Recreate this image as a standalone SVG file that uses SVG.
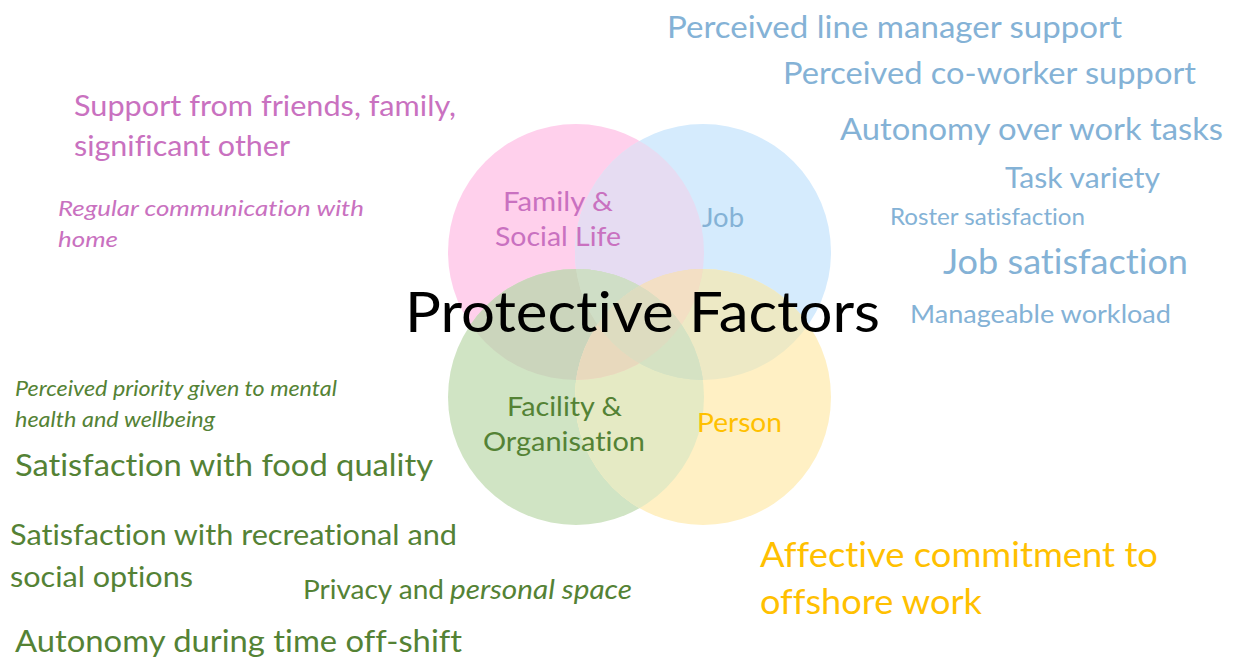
<svg xmlns="http://www.w3.org/2000/svg" width="1236" height="659" viewBox="0 0 1236 659">
<style>
text{font-family:Lato,"Open Sans","Liberation Sans",sans-serif;font-variant-ligatures:none;font-feature-settings:"liga" 0,"clig" 0;}
.b{fill:#84b2d6;}
.p{fill:#c971c0;}
.g{fill:#548235;}
.y{fill:#ffc000;}
.it{font-style:italic;}
.lbl{font-size:26.5px;}
</style>
<defs>
<circle id="cP" cx="576" cy="252" r="128"/>
<circle id="cB" cx="703" cy="252" r="128"/>
<circle id="cG" cx="576" cy="397" r="128"/>
<circle id="cY" cx="703" cy="397" r="128"/>
<clipPath id="kP"><use href="#cP"/></clipPath>
<clipPath id="kB"><use href="#cB"/></clipPath>
<clipPath id="kG"><use href="#cG"/></clipPath>
<clipPath id="kY"><use href="#cY"/></clipPath>
</defs>
<rect width="1236" height="659" fill="#ffffff"/>
<g id="circles">
<use id="circle-family" href="#cP" fill="#ffd0ec"/>
<use id="circle-job" href="#cB" fill="#d5ebfd"/>
<use id="circle-facility" href="#cG" fill="#d0e4c4"/>
<use id="circle-person" href="#cY" fill="#fff0c4"/>
<g clip-path="url(#kP)"><use href="#cB" fill="#e6dcf2"/></g>
<g clip-path="url(#kP)"><use href="#cG" fill="#cbd5bc"/></g>
<g clip-path="url(#kB)"><use href="#cY" fill="#ede9c5"/></g>
<g clip-path="url(#kG)"><use href="#cY" fill="#e5eac4"/></g>
<g clip-path="url(#kP)"><use href="#cY" fill="#f0dcc6"/></g>
<g clip-path="url(#kB)"><use href="#cG" fill="#d2e2c8"/></g>
<g clip-path="url(#kP)"><g clip-path="url(#kB)"><use href="#cG" fill="#cfdec6"/></g></g>
<g clip-path="url(#kP)"><g clip-path="url(#kB)"><use href="#cY" fill="#f3dfc4"/></g></g>
<g clip-path="url(#kP)"><g clip-path="url(#kG)"><use href="#cY" fill="#e8d9bd"/></g></g>
<g clip-path="url(#kB)"><g clip-path="url(#kG)"><use href="#cY" fill="#d5e2c3"/></g></g>
<g clip-path="url(#kP)"><g clip-path="url(#kB)"><g clip-path="url(#kG)"><use href="#cY" fill="#dddcc0"/></g></g></g>
</g>
<g id="connectors"></g>
<g id="node-family-label">
<text class="p lbl" x="503" y="211" textLength="110" lengthAdjust="spacingAndGlyphs">Family &amp;</text>
<text class="p lbl" x="495" y="246" textLength="126" lengthAdjust="spacingAndGlyphs">Social Life</text>
</g>
<g id="node-job-label">
<text class="b lbl" x="702" y="227" textLength="42" lengthAdjust="spacingAndGlyphs">Job</text>
</g>
<g id="node-facility-label">
<text class="g lbl" x="507" y="416" textLength="115" lengthAdjust="spacingAndGlyphs">Facility &amp;</text>
<text class="g lbl" x="483" y="451" textLength="162" lengthAdjust="spacingAndGlyphs">Organisation</text>
</g>
<g id="node-person-label">
<text class="y lbl" x="697" y="432" textLength="85" lengthAdjust="spacingAndGlyphs">Person</text>
</g>
<g id="node-title">
<text x="405" y="332" font-size="56" fill="#000000" textLength="475" lengthAdjust="spacingAndGlyphs">Protective Factors</text>
</g>
<g id="node-job-factors">
<text class="b" x="667" y="38" font-size="31" textLength="455" lengthAdjust="spacingAndGlyphs">Perceived line manager support</text>
<text class="b" x="783" y="84" font-size="31" textLength="413" lengthAdjust="spacingAndGlyphs">Perceived co-worker support</text>
<text class="b" x="840" y="140" font-size="31" textLength="383" lengthAdjust="spacingAndGlyphs">Autonomy over work tasks</text>
<text class="b" x="1005" y="188" font-size="28" textLength="155" lengthAdjust="spacingAndGlyphs">Task variety</text>
<text class="b" x="890" y="225" font-size="23" textLength="195" lengthAdjust="spacingAndGlyphs">Roster satisfaction</text>
<text class="b" x="943" y="274" font-size="34" textLength="245" lengthAdjust="spacingAndGlyphs">Job satisfaction</text>
<text class="b" x="910" y="323" font-size="25" textLength="261" lengthAdjust="spacingAndGlyphs">Manageable workload</text>
</g>
<g id="node-family-factors">
<text class="p" x="74" y="116" font-size="29" textLength="382" lengthAdjust="spacingAndGlyphs">Support from friends, family,</text>
<text class="p" x="74" y="156" font-size="29" textLength="216" lengthAdjust="spacingAndGlyphs">significant other</text>
<text class="p it" x="58" y="216" font-size="22" textLength="306" lengthAdjust="spacingAndGlyphs">Regular communication with</text>
<text class="p it" x="58" y="247" font-size="22" textLength="60" lengthAdjust="spacingAndGlyphs">home</text>
</g>
<g id="node-facility-factors">
<text class="g it" x="15" y="396" font-size="20.5" textLength="322" lengthAdjust="spacingAndGlyphs">Perceived priority given to mental</text>
<text class="g it" x="15" y="427" font-size="20.5" textLength="200" lengthAdjust="spacingAndGlyphs">health and wellbeing</text>
<text class="g" x="15" y="476" font-size="31" textLength="418" lengthAdjust="spacingAndGlyphs">Satisfaction with food quality</text>
<text class="g" x="10" y="545" font-size="29" textLength="447" lengthAdjust="spacingAndGlyphs">Satisfaction with recreational and</text>
<text class="g" x="10" y="587" font-size="29" textLength="183" lengthAdjust="spacingAndGlyphs">social options</text>
<text class="g" x="303" y="599" font-size="26.5" textLength="141" lengthAdjust="spacingAndGlyphs">Privacy and</text>
<text class="g it" x="450" y="599" font-size="26.5" textLength="182" lengthAdjust="spacingAndGlyphs">personal space</text>
<text class="g" x="15" y="652" font-size="31" textLength="447" lengthAdjust="spacingAndGlyphs">Autonomy during time off-shift</text>
</g>
<g id="node-person-factors">
<text class="y" x="760" y="567" font-size="34.5" textLength="398" lengthAdjust="spacingAndGlyphs">Affective commitment to</text>
<text class="y" x="760" y="614" font-size="34.5" textLength="222" lengthAdjust="spacingAndGlyphs">offshore work</text>
</g>
</svg>
